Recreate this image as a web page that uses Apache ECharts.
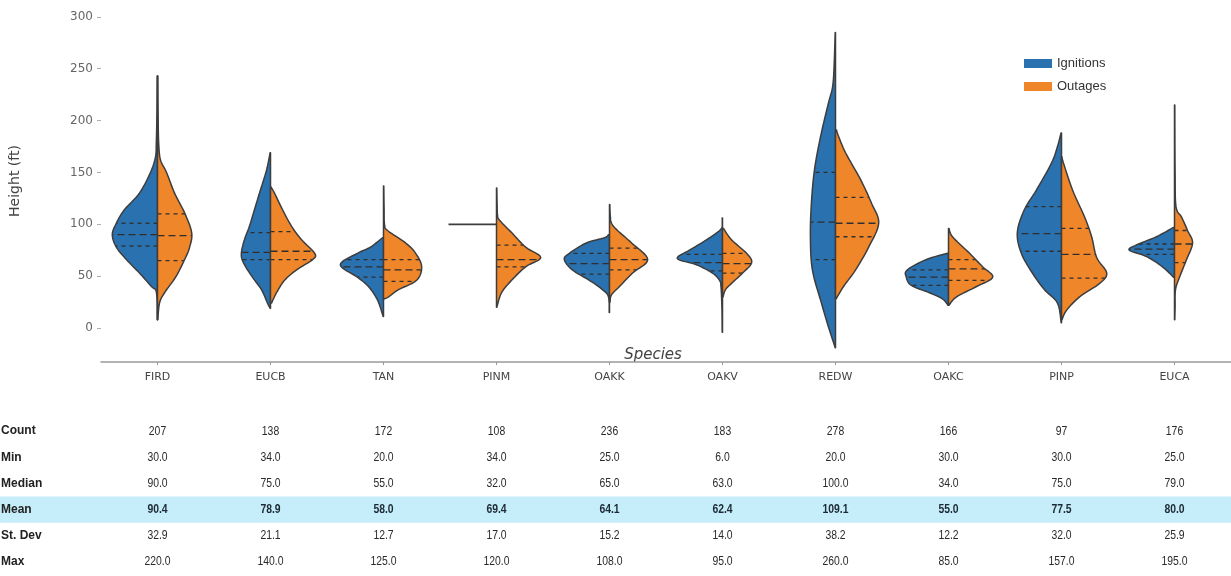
<!DOCTYPE html>
<html>
<head>
<meta charset="utf-8">
<script src="https://cdn.jsdelivr.net/npm/echarts@6/dist/echarts.min.js"></script>
<style>
  html, body { margin: 0; padding: 0; background: #fff; }
  #chart { width: 1231px; height: 576px; }
</style>
</head>
<body>
<div id="chart"></div>
<script>
const species = ['FIRD', 'EUCB', 'TAN', 'PINM', 'OAKK', 'OAKV', 'REDW', 'OAKC', 'PINP', 'EUCA'];
const heightTicks = [0, 50, 100, 150, 200, 250, 300];

// kde outline of each half, [height, density]; density is relative, 45 = widest half
const ignitionKde = [
  [[8, 0.3], [34, 1], [40, 6], [53, 18], [66, 31], [78, 41], [90, 45], [101, 41], [114, 33], [130, 18], [150, 7], [165, 2], [178, 1.2], [205, 0.6], [243, 0.3]],
  [[19, 0.3], [24, 3], [37, 9], [49, 18], [63, 27], [72, 29], [85, 26], [98, 21], [114, 16], [130, 11], [152, 4], [169, 0.4]],
  [[11, 0.3], [27, 6], [40, 15], [49, 26], [61, 43], [72, 26], [78, 13], [87, 1]],
  [],
  [[15, 0.3], [30, 1], [37, 7], [46, 20], [56, 37], [66, 45], [72, 40], [82, 23], [87, 5], [90, 1]],
  [[-4, 0.3], [20, 0.6], [40, 1.5], [46, 3], [53, 10], [61, 26], [67, 45], [75, 33], [85, 16], [96, 1], [106, 0.3]],
  [[-19, 0.3], [1, 7], [24, 14], [56, 23], [88, 25], [120, 24], [152, 21], [184, 15], [217, 7], [232, 3], [250, 1.5], [285, 0.3]],
  [[22, 0.5], [28, 6], [34, 19], [41, 37], [49, 42], [56, 41], [66, 22], [72, 1]],
  [[5, 0.3], [24, 4], [37, 17], [53, 29], [72, 40], [92, 44], [114, 37], [133, 25], [159, 10], [175, 4], [188, 0.5]],
  [[49, 1], [59, 12], [69, 28], [75, 45], [80, 38], [88, 18], [97, 1]]
];
const outageKde = [
  [[8, 0.3], [24, 2], [34, 7], [49, 18], [66, 27], [78, 32], [92, 34], [111, 27], [130, 17], [150, 9], [162, 3], [178, 1.2], [205, 0.6], [243, 0.3]],
  [[24, 1], [34, 6], [46, 14], [56, 26], [66, 42], [72, 44], [85, 31], [98, 21], [114, 12], [130, 4], [136, 0.5]],
  [[28, 0.5], [30, 5], [37, 15], [46, 33], [59, 38], [72, 32], [82, 22], [94, 4], [100, 1], [115, 0.6], [137, 0.3]],
  [[20, 0.3], [34, 5], [46, 15], [59, 29], [68, 44], [78, 29], [92, 15], [104, 3], [109, 1], [120, 0.6], [135, 0.3]],
  [[25, 0.5], [32, 2], [40, 10], [53, 23], [66, 38], [82, 22], [94, 8], [101, 2], [108, 0.8], [119, 0.3]],
  [[30, 0.5], [37, 3], [43, 9], [53, 20], [63, 29], [72, 24], [85, 9], [96, 1]],
  [[28, 0.5], [40, 8], [56, 20], [78, 33], [101, 43], [120, 36], [143, 25], [169, 10], [185, 3], [191, 1]],
  [[22, 0.5], [30, 8], [40, 28], [49, 44], [59, 34], [72, 21], [88, 4], [96, 0.5]],
  [[8, 0.5], [17, 5], [30, 18], [43, 38], [53, 45], [68, 35], [88, 30], [107, 23], [133, 11], [159, 2], [165, 0.5]],
  [[8, 0.3], [20, 0.6], [37, 1], [49, 5], [66, 12], [82, 18], [94, 13], [107, 7], [117, 1.5], [150, 0.6], [215, 0.3]]
];
// single observation (drawn as a stick)
const ignitionSingle = [null, null, null, 100, null, null, null, null, null, null];

// [q1, median, q3]
const ignitionQuartiles = [[79, 90, 101], [66, 73, 92], [49, 59, 66], null, [52, 62, 72], [55, 63, 71], [66, 102, 150], [41, 49, 56], [74, 91, 117], [71, 76, 81]];
const outageQuartiles = [[65, 89, 110], [66, 74, 93], [45, 56, 66], [59, 66, 80], [56, 66, 77], [53, 62, 72], [88, 101, 126], [46, 57, 66], [48, 71, 96], [63, 81, 94]];

// summary table
const rowNames = ['Count', 'Min', 'Median', 'Mean', 'St. Dev', 'Max'];
const counts = [207, 138, 172, 108, 236, 183, 278, 166, 97, 176];
const mins = [30.0, 34.0, 20.0, 34.0, 25.0, 6.0, 20.0, 30.0, 30.0, 25.0];
const medians = [90.0, 75.0, 55.0, 32.0, 65.0, 63.0, 100.0, 34.0, 75.0, 79.0];
const means = [90.4, 78.9, 58.0, 69.4, 64.1, 62.4, 109.1, 55.0, 77.5, 80.0];
const stdevs = [32.9, 21.1, 12.7, 17.0, 15.2, 14.0, 38.2, 12.2, 32.0, 25.9];
const maxes = [220.0, 140.0, 125.0, 120.0, 108.0, 95.0, 260.0, 85.0, 157.0, 195.0];

const DENSITY_PEAK = 45;
const BLUE = '#2a71b0';
const ORANGE = '#f0862a';
const OUTLINE = '#3d3d3d';
const TABLE_FONT = '"Liberation Sans", Arial, sans-serif';

function catmull(p) {
  if (p.length < 3) return p.slice();
  const out = [];
  const n = 8;
  for (let k = 0; k < p.length - 1; k++) {
    const p0 = p[Math.max(k - 1, 0)], p1 = p[k], p2 = p[k + 1], p3 = p[Math.min(k + 2, p.length - 1)];
    for (let t = 0; t < n; t++) {
      const s = t / n, s2 = s * s, s3 = s2 * s;
      const f = (a, b, c, d) => 0.5 * (2 * b + (-a + c) * s + (2 * a - 5 * b + 4 * c - d) * s2 + (-a + 3 * b - 3 * c + d) * s3);
      out.push([f(p0[0], p1[0], p2[0], p3[0]), f(p0[1], p1[1], p2[1], p3[1])]);
    }
  }
  out.push(p[p.length - 1]);
  return out;
}

function widthAt(edge, y, cx) {
  for (let k = 0; k < edge.length - 1; k++) {
    const a = edge[k], b = edge[k + 1];
    if ((a[1] - y) * (b[1] - y) <= 0 && a[1] !== b[1]) {
      const t = (y - a[1]) / (b[1] - a[1]);
      return a[0] + (b[0] - a[0]) * t - cx;
    }
  }
  return 0;
}

function halfRenderer(kde, quartiles, single, side, color) {
  return function (params, api) {
    const i = params.dataIndex;
    const band = api.size([1, 0])[0];
    const scale = 0.4 * band / DENSITY_PEAK;
    const cx = api.coord([i, 0])[0];
    const children = [];
    const pts = kde[i];
    if (pts && pts.length) {
      let edge = catmull(pts.map(function (p) {
        return [cx + side * p[1] * scale, api.coord([i, p[0]])[1]];
      }));
      edge = edge.map(function (q) {
        const w = side * (q[0] - cx);
        return [cx + side * Math.max(w, 0.25), q[1]];
      });
      const poly = edge.concat([[cx, edge[edge.length - 1][1]], [cx, edge[0][1]]]);
      children.push({ type: 'polygon', shape: { points: poly }, style: { fill: color, stroke: null } });
      const qs = quartiles[i];
      if (qs) {
        qs.forEach(function (q, qi) {
          const y = api.coord([i, q])[1];
          const w = widthAt(edge, y, cx);
          children.push({
            type: 'line',
            shape: { x1: cx, y1: y, x2: cx + w, y2: y },
            style: { stroke: '#2e2e2e', lineWidth: 1.3, lineDash: qi === 1 ? [7, 4] : [4, 4] }
          });
        });
      }
      children.push({ type: 'polygon', shape: { points: poly }, style: { fill: null, stroke: OUTLINE, lineWidth: 1.5, lineJoin: 'round' } });
    }
    if (single && single[i] != null) {
      const y = api.coord([i, single[i]])[1];
      children.push({ type: 'line', shape: { x1: cx, y1: y, x2: cx + side * 48 / 113 * band, y2: y }, style: { stroke: OUTLINE, lineWidth: 1.8 } });
    }
    return { type: 'group', children: children };
  };
}

const tableRows = [counts, mins, medians, means, stdevs, maxes];
const tableData = [];
tableRows.forEach(function (row, r) {
  row.forEach(function (v, c) {
    tableData.push([c, r]);
  });
});

const chart = echarts.init(document.getElementById('chart'), null, { renderer: 'canvas' });
chart.setOption({
  backgroundColor: '#fff',
  animation: false,
  legend: {
    data: ['Ignitions', 'Outages'],
    orient: 'vertical',
    left: 1019,
    top: 52,
    itemWidth: 28,
    itemHeight: 9,
    itemGap: 10,
    icon: 'rect',
    textStyle: { fontSize: 13, color: '#333', fontFamily: 'Liberation Sans' }
  },
  grid: [
    { left: 101, right: 0, top: 0, bottom: 214, outerBoundsMode: 'none' },
    { left: 101, right: 0, top: 418, bottom: 1, outerBoundsMode: 'none' }
  ],
  xAxis: [
    {
      type: 'category', gridIndex: 0, data: species,
      axisLine: { onZero: false, lineStyle: { color: '#9a9a9a', width: 1.5 } },
      axisTick: { show: true, alignWithLabel: true, length: 3, lineStyle: { color: '#9a9a9a' } },
      axisLabel: { fontSize: 11, color: '#444', margin: 10, fontFamily: 'DejaVu Sans' },
      name: 'Species', nameLocation: 'middle', nameGap: -14, nameMoveOverlap: false,
      nameTextStyle: { fontSize: 15, fontStyle: 'italic', color: '#444', padding: [0, 26, 0, 0], fontFamily: 'DejaVu Sans' }
    },
    { type: 'category', gridIndex: 1, data: species, show: false }
  ],
  yAxis: [
    {
      type: 'value', gridIndex: 0, min: -32.8, max: 316.3,
      splitLine: { show: false },
      axisLine: { show: false },
      axisTick: { show: true, customValues: heightTicks, length: 4, lineStyle: { color: '#b0b0b0' } },
      axisLabel: { customValues: heightTicks, fontSize: 12, color: '#666', margin: 8, fontFamily: 'DejaVu Sans' },
      name: 'Height (ft)', nameLocation: 'middle', nameGap: 79,
      nameTextStyle: { fontSize: 14, color: '#444', fontFamily: 'DejaVu Sans' }
    },
    {
      type: 'category', gridIndex: 1, data: rowNames, inverse: true, z: 10,
      axisLine: { show: false }, axisTick: { show: false },
      axisLabel: { align: 'left', margin: 100, fontSize: 12, fontWeight: 'bold', color: '#222', fontFamily: TABLE_FONT }
    }
  ],
  series: [
    {
      type: 'custom', z: 0, xAxisIndex: 1, yAxisIndex: 1, silent: true,
      data: [[0, rowNames.indexOf('Mean')]],
      renderItem: function (params, api) {
        const y = api.coord([0, api.value(1)])[1];
        const h = api.size([0, 1])[1];
        return { type: 'rect', z2: -10, shape: { x: 0, y: y - h / 2, width: api.getWidth(), height: h }, style: { fill: '#c6eefa' } };
      }
    },
    {
      name: 'Ignitions', type: 'custom', z: 3, xAxisIndex: 0, yAxisIndex: 0,
      itemStyle: { color: BLUE },
      data: species.map(function (s, i) { return [i, ignitionQuartiles[i] ? ignitionQuartiles[i][1] : ignitionSingle[i]]; }),
      renderItem: halfRenderer(ignitionKde, ignitionQuartiles, ignitionSingle, -1, BLUE)
    },
    {
      name: 'Outages', type: 'custom', z: 3, xAxisIndex: 0, yAxisIndex: 0,
      itemStyle: { color: ORANGE },
      data: species.map(function (s, i) { return [i, outageQuartiles[i][1]]; }),
      renderItem: halfRenderer(outageKde, outageQuartiles, null, 1, ORANGE)
    },
    {
      type: 'custom', z: 4, xAxisIndex: 1, yAxisIndex: 1, silent: true,
      data: tableData,
      renderItem: function (params, api) {
        const c = api.value(0), r = api.value(1);
        const p = api.coord([c, r]);
        const v = tableRows[r][c];
        const isMean = r === rowNames.indexOf('Mean');
        return {
          type: 'text',
          x: p[0], y: p[1], scaleX: 0.8,
          style: {
            x: 0, y: 0, text: r === 0 ? String(v) : v.toFixed(1),
            align: 'center', verticalAlign: 'middle',
            font: (isMean ? 'bold ' : '') + '13px ' + TABLE_FONT,
            fill: isMean ? '#1c2a36' : '#2a2a2a'
          }
        };
      }
    }
  ]
});
</script>
</body>
</html>
